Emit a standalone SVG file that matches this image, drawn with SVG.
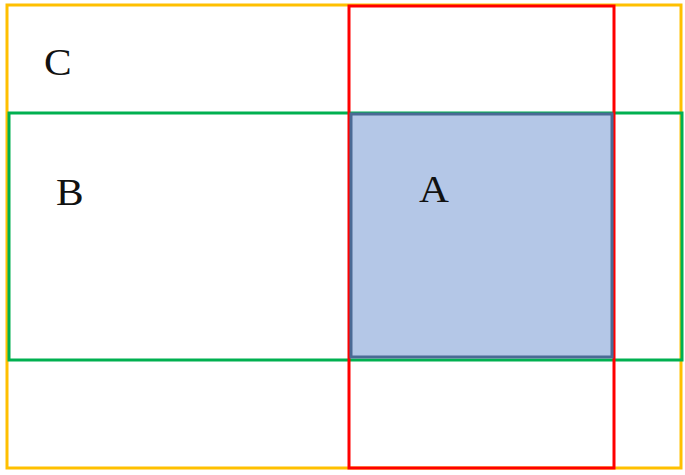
<svg xmlns="http://www.w3.org/2000/svg" width="685" height="475" viewBox="0 0 685 475">
<style>
  .lbl { font-family: "Liberation Serif", "Times New Roman", serif; font-size: 37px; fill: #111; }
  .box { fill: none; stroke-width: 3; }
</style>
<rect width="685" height="475" fill="#ffffff"/>
<g id="C">
  <rect class="box" x="7" y="5" width="674" height="463" stroke="#FFC000"/>
  <text class="lbl" transform="translate(44,75) scale(1.12,1)">C</text>
</g>
<g id="B">
  <rect class="box" x="9" y="113" width="673" height="247" stroke="#00B050"/>
  <text class="lbl" transform="translate(56,205) scale(1.12,1)">B</text>
</g>
<g id="D">
  <rect class="box" x="349" y="6" width="265" height="462" stroke="#FF0000"/>
</g>
<g id="A">
  <rect x="351" y="114" width="261" height="243" fill="#B4C7E7" stroke="#4A6A95" stroke-width="3"/>
  <text class="lbl" transform="translate(419,202) scale(1.12,1)">A</text>
</g>
<g id="connectors"></g>
</svg>
